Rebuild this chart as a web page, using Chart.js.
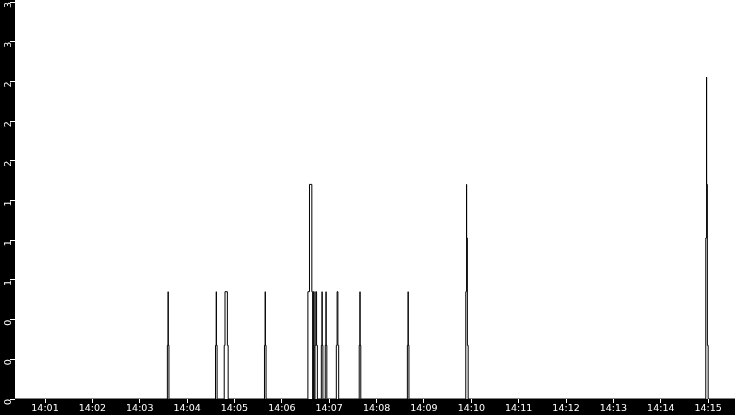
<!DOCTYPE html>
<html>
<head>
<meta charset="utf-8">
<script src="https://cdn.jsdelivr.net/npm/chart.js@4.4.1/dist/chart.umd.min.js"></script>
<style>
  html, body { margin: 0; padding: 0; background: #000; }
</style>
</head>
<body>
<canvas id="myChart" width="735" height="415"></canvas>
<script>
// moments where the value changes (step line) and the value reached there
const times = [
  "14:00:22",
  "14:03:35", "14:03:36", "14:03:36", "14:03:37",
  "14:04:36", "14:04:37", "14:04:37", "14:04:38",
  "14:04:47", "14:04:48", "14:04:51", "14:04:52",
  "14:05:38", "14:05:39", "14:05:39", "14:05:40",
  "14:06:33", "14:06:35", "14:06:38", "14:06:39", "14:06:40", "14:06:41",
  "14:06:42", "14:06:43", "14:06:44", "14:06:45",
  "14:06:50", "14:06:51", "14:06:51", "14:06:52",
  "14:06:55", "14:06:56", "14:06:56", "14:06:57",
  "14:07:09", "14:07:10", "14:07:11", "14:07:12",
  "14:07:38", "14:07:39", "14:07:39", "14:07:40",
  "14:08:39", "14:08:40", "14:08:40", "14:08:41",
  "14:09:53", "14:09:54", "14:09:54", "14:09:55", "14:09:56",
  "14:14:57", "14:14:58", "14:14:58", "14:14:59", "14:15:00",
  "14:15:34"
];
const values = [
  0,
  0.5, 1, 0.5, 0,
  0.5, 1, 0.5, 0,
  0.5, 1, 0.5, 0,
  0.5, 1, 0.5, 0,
  1, 2, 1, 0, 1, 0,
  0.5, 1, 0.5, 0,
  0.5, 1, 0.5, 0,
  0.5, 1, 0.5, 0,
  0.5, 1, 0.5, 0,
  0.5, 1, 0.5, 0,
  0.5, 1, 0.5, 0,
  1, 2, 1.5, 0.5, 0,
  1.5, 3, 2, 0.5, 0,
  0
];

const xTickLabels = ["14:01", "14:02", "14:03", "14:04", "14:05", "14:06", "14:07",
  "14:08", "14:09", "14:10", "14:11", "14:12", "14:13", "14:14", "14:15"];
const yTickLabels = ["0", "0", "0", "1", "1", "1", "2", "2", "2", "3", "3"];
const yMax = 3.7;

function toSec(t) {
  const p = t.split(":").map(Number);
  return p[0] * 3600 + p[1] * 60 + (p[2] || 0);
}

const points = times.map((t, i) => ({ x: toSec(t), y: values[i] }));

const bgPlugin = {
  id: "bg",
  beforeDraw(chart) {
    const { ctx, chartArea } = chart;
    ctx.save();
    ctx.fillStyle = "#000";
    ctx.fillRect(0, 0, chart.width, chart.height);
    ctx.fillStyle = "#fff";
    ctx.fillRect(chartArea.left, 0, chart.width - chartArea.left, chartArea.bottom);
    ctx.restore();
  },
};

const tickFont = { family: "DejaVu Sans", size: 9.5 };

new Chart(document.getElementById("myChart"), {
  type: "line",
  data: {
    datasets: [
      {
        data: points,
        borderColor: "#000",
        borderWidth: 1,
        pointRadius: 0,
        stepped: true,
        fill: false,
      },
    ],
  },
  options: {
    responsive: false,
    devicePixelRatio: 1,
    animation: false,
    layout: { padding: 0 },
    plugins: { legend: { display: false }, tooltip: { enabled: false } },
    scales: {
      x: {
        type: "linear",
        min: toSec(times[0]),
        max: toSec(times[times.length - 1]),
        afterBuildTicks: (axis) => {
          axis.ticks = xTickLabels.map((l) => ({ value: toSec(l) }));
        },
        afterFit: (axis) => {
          axis.height = 16;
          axis.paddingLeft = 0;
          axis.paddingRight = 0;
        },
        ticks: {
          autoSkip: false,
          maxRotation: 0,
          padding: 0,
          color: "#fff",
          font: tickFont,
          callback: (v, i) => xTickLabels[i],
        },
        grid: { drawOnChartArea: false, color: "#fff", tickLength: 4 },
        border: { display: false },
      },
      y: {
        min: 0,
        max: yMax,
        afterBuildTicks: (axis) => {
          axis.ticks = yTickLabels.map((l, i) => ({ value: (i * yMax) / (yTickLabels.length - 1) }));
        },
        afterFit: (axis) => {
          axis.width = 15;
          axis.paddingTop = 2;
          axis.paddingBottom = 0;
        },
        ticks: {
          autoSkip: false,
          minRotation: 90,
          maxRotation: 90,
          padding: 1,
          color: "#fff",
          font: tickFont,
          callback: (v, i) => yTickLabels[i],
        },
        grid: { drawOnChartArea: false, color: "#fff", tickLength: 5 },
        border: { display: false },
      },
    },
  },
  plugins: [bgPlugin],
});
</script>
</body>
</html>
